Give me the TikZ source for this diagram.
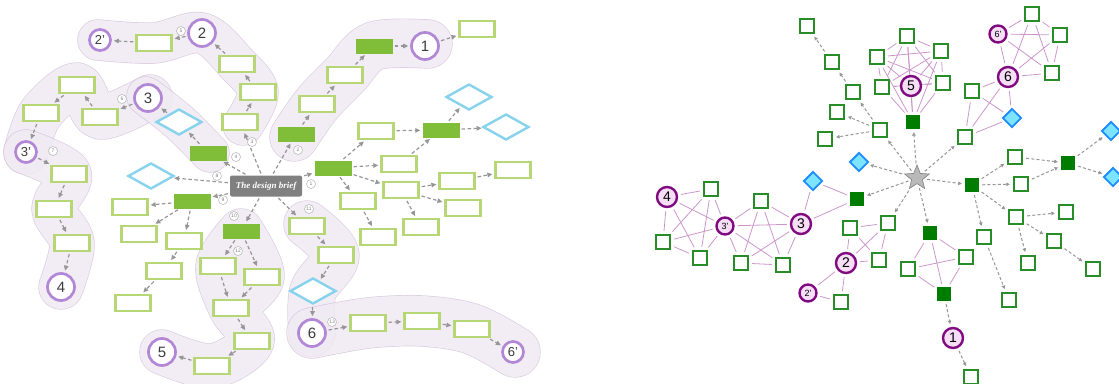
\documentclass[tikz,border=0pt]{standalone}
\usepackage{fontspec}
\setsansfont{Liberation Sans}
\setmainfont{Liberation Serif}
\usetikzlibrary{shapes.geometric, arrows.meta}

\definecolor{boxgreen}{RGB}{183,215,118}
\definecolor{fillgreen}{RGB}{128,190,58}
\definecolor{diablue}{RGB}{135,210,236}
\definecolor{ringpurple}{RGB}{178,136,214}
\definecolor{arrowgray}{RGB}{150,150,150}
\definecolor{briefgray}{RGB}{128,128,128}
\definecolor{blobfill}{RGB}{240,233,243}
\definecolor{blobline}{RGB}{214,196,220}
\definecolor{darktext}{RGB}{60,60,60}
\definecolor{rgreen}{RGB}{40,140,40}
\definecolor{rfill}{RGB}{0,125,0}
\definecolor{rdiafill}{RGB}{125,228,255}
\definecolor{rdiaedge}{RGB}{30,140,255}
\definecolor{rring}{RGB}{128,10,128}
\definecolor{rringfill}{RGB}{246,222,246}
\definecolor{rlink}{RGB}{204,150,204}

\pgfdeclarelayer{blobs}
\pgfdeclarelayer{edges}
\pgfsetlayers{blobs,edges,main}

% a soft rounded band through a list of points
\newcommand\band[2]{%
  \begin{scope}[transparency group, opacity=0.85]
    \draw[blobline, line width=#1+1.4pt, line cap=round, line join=round]
      plot[smooth, tension=0.55] coordinates {#2};
    \draw[blobfill, line width=#1, line cap=round, line join=round]
      plot[smooth, tension=0.55] coordinates {#2};
  \end{scope}}

\tikzset{
  box/.style={rectangle, draw=boxgreen, line width=2.3pt, fill=white,
    minimum width=35pt, minimum height=16pt, inner sep=0pt},
  fbox/.style={rectangle, fill=fillgreen, minimum width=37pt,
    minimum height=15pt, inner sep=0pt},
  dia/.style={diamond, draw=diablue, line width=2.4pt, fill=white,
    minimum width=46pt, minimum height=26pt, inner sep=0pt},
  ring/.style={circle, draw=ringpurple, line width=2.7pt, fill=white,
    minimum size=27pt, inner sep=0pt, text=darktext,
    font=\sffamily\fontsize{15}{15}\selectfont},
  ringp/.style={ring, minimum size=21pt,
    font=\sffamily\fontsize{13}{13}\selectfont},
  tag/.style={circle, draw=gray!60, line width=0.5pt, fill=white,
    inner sep=0pt, minimum size=9pt, text=gray,
    font=\sffamily\fontsize{5}{5}\selectfont},
  brief/.style={rectangle, rounded corners=2pt, fill=briefgray,
    minimum width=72pt, minimum height=21pt, inner sep=0pt, text=white,
    font=\bfseries\itshape\fontsize{9}{10}\selectfont},
  larr/.style={draw=arrowgray, line width=1.2pt,
    dash pattern=on 3.5pt off 2.5pt,
    -{Triangle[length=5pt,width=4.5pt]}, shorten >=2pt, shorten <=2pt},
  rsq/.style={rectangle, draw=rgreen, line width=2.3pt, fill=white,
    minimum size=14pt, inner sep=0pt},
  rfl/.style={rectangle, fill=rfill, minimum size=14pt, inner sep=0pt},
  rdia/.style={diamond, draw=rdiaedge, line width=1.9pt, fill=rdiafill,
    minimum size=19pt, inner sep=0pt},
  rring/.style={circle, draw=rring, line width=2.4pt, fill=rringfill,
    minimum size=20pt, inner sep=0pt,
    font=\sffamily\fontsize{14}{14}\selectfont},
  rringp/.style={rring, minimum size=17pt,
    font=\sffamily\fontsize{9}{9}\selectfont},
  rstar/.style={star, star points=5, star point ratio=2.3, fill=gray!55,
    draw=gray, line width=0.6pt, minimum size=26pt, inner sep=0pt},
  rarr/.style={draw=arrowgray, line width=1pt,
    dash pattern=on 3pt off 2.2pt,
    -{Triangle[length=3.5pt,width=3.5pt]}, shorten >=3pt, shorten <=3pt},
  rln/.style={draw=rlink, line width=0.8pt, shorten >=3pt, shorten <=3pt},
}

\begin{document}
\begin{tikzpicture}[x=1pt, y=-1pt]
\useasboundingbox (0,0) rectangle (1119,383);

% ---------------- left: bands behind the paths ----------------
\begin{pgfonlayer}{blobs}
\band{40pt}{(98,40) (154,43) (202,33) (237,64) (258,92) (243,125)}
\band{44pt}{(150,97) (100,117) (77,85) (41,113) (26,152)}
\band{44pt}{(26,152) (69,174) (54,209) (72,243) (61,287)}
\band{38pt}{(146,96) (179,122) (210,153)}
\band{48pt}{(294,137) (317,104) (345,75) (374,46) (428,44)}
\begin{scope}[transparency group, opacity=0.85]
  \draw[blobline, line width=45.4pt, line cap=round, line join=round]
    plot[smooth, tension=0.55] coordinates {(241,231) (218,266) (231,308) (252,341) (212,366) (162,352)}
    plot[smooth, tension=0.55] coordinates {(241,231) (262,277) (231,308)};
  \draw[blobfill, line width=44pt, line cap=round, line join=round]
    plot[smooth, tension=0.55] coordinates {(241,231) (218,266) (231,308) (252,341) (212,366) (162,352)}
    plot[smooth, tension=0.55] coordinates {(241,231) (262,277) (231,308)};
\end{scope}
\band{46pt}{(307,224) (336,255) (313,291) (312,333)}
\band{50pt}{(312,333) (368,323) (422,321) (472,329) (515,352)}
\end{pgfonlayer}

% ---------------- left: nodes ----------------
\node[brief] (brief) at (266,186) {The design brief};
\node[fbox] (g1) at (333,168) {};
\node[fbox] (g2) at (296,134) {};
\node[fbox] (g4) at (208,153) {};
\node[fbox] (g9) at (192,201) {};
\node[fbox] (g10) at (241,231) {};
\node[box] (b11) at (307,226) {};
\node[box] (b3) at (240,122) {};
\node[dia] (d8) at (151,176) {};

\node[box] (a1) at (317,104) {};
\node[box] (a2) at (345,75) {};
\node[fbox] (ga) at (374,46) {};
\node[ring] (c1) at (425,46) {1};
\node[box] (a3) at (477,29) {};

\node[box] (e1) at (258,92) {};
\node[box] (e2) at (237,64) {};
\node[ring] (c2) at (202,33) {2};
\node[box] (e3) at (154,43) {};
\node[ringp] (c2p) at (100,40) {2’};

\node[dia] (d4) at (179,122) {};
\node[ring] (c3) at (148,98) {3};
\node[box] (f1) at (100,117) {};
\node[box] (f2) at (77,85) {};
\node[box] (f3) at (41,113) {};
\node[ringp] (c3p) at (26,152) {3’};
\node[box] (f4) at (69,174) {};
\node[box] (f5) at (54,209) {};
\node[box] (f6) at (72,243) {};
\node[ring] (c4) at (61,287) {4};

\node[box] (h1) at (376,131) {};
\node[box] (h2) at (399,164) {};
\node[box] (h3) at (401,190) {};
\node[box] (h4) at (358,201) {};
\node[fbox] (gh) at (441,130) {};
\node[dia] (dh1) at (469,97) {};
\node[dia] (dh2) at (506,127) {};
\node[box] (h5) at (457,181) {};
\node[box] (h6) at (463,208) {};
\node[box] (h7) at (421,227) {};
\node[box] (h8) at (513,170) {};
\node[box] (h9) at (378,237) {};

\node[box] (i1) at (130,207) {};
\node[box] (i2) at (139,234) {};
\node[box] (i3) at (184,241) {};
\node[box] (i4) at (164,271) {};
\node[box] (i5) at (133,303) {};

\node[box] (j1) at (218,266) {};
\node[box] (j2) at (262,277) {};
\node[box] (j3) at (231,308) {};
\node[box] (j4) at (252,341) {};
\node[box] (j5) at (212,366) {};
\node[ring] (c5) at (162,352) {5};

\node[box] (k1) at (336,255) {};
\node[dia] (dk) at (313,291) {};
\node[ring] (c6) at (312,333) {6};
\node[box] (k2) at (368,323) {};
\node[box] (k3) at (422,321) {};
\node[box] (k4) at (472,329) {};
\node[ringp] (c6p) at (513,352) {6’};

% ---------------- left: arrows ----------------
\begin{pgfonlayer}{edges}
\foreach \a/\b in {brief/g1, brief/g2, brief/b3, brief/g4, brief/d8, brief/g9,
  brief/g10, brief/b11,
  g2/a1, a1/a2, a2/ga, ga/c1, c1/a3,
  b3/e1, e1/e2, e2/c2, c2/e3, e3/c2p,
  g4/d4, d4/c3, c3/f1, f1/f2, f2/f3, f3/c3p, c3p/f4, f4/f5, f5/f6, f6/c4,
  g1/h1, g1/h2, g1/h3, g1/h4, h1/gh, h2/gh, gh/dh1, gh/dh2,
  h3/h5, h3/h6, h3/h7, h5/h8, h4/h9,
  g9/i1, g9/i2, g9/i3, i3/i4, i4/i5,
  g10/j1, g10/j2, j1/j3, j2/j3, j3/j4, j4/j5, j5/c5,
  b11/k1, k1/dk, dk/c6, c6/k2, k2/k3, k3/k4, k4/c6p}
  \draw[larr] (\a) -- (\b);
\end{pgfonlayer}

% step numbers
\node[tag] (n1) at (311,184) {1};
\node[tag] (n2) at (298,150) {2};
\node[tag] (n3) at (252,142) {3};
\node[tag] (n4) at (236,157) {4};
\node[tag] (n5) at (181,31) {5};
\node[tag] (n6) at (122,99) {6};
\node[tag] (n7) at (53,151) {7};
\node[tag] (n8) at (217,176) {8};
\node[tag] (n9) at (223,200) {9};
\node[tag] (n10) at (234,216) {10};
\node[tag] (n11) at (309,209) {11};
\node[tag] (n12) at (238,251) {12};
\node[tag] (n13) at (332,322) {13};

% ---------------- right: nodes ----------------
\node[rstar] (S) at (917,178) {};
\node[rfl] (G5) at (913,122) {};
\node[rsq] (Q1) at (880,130) {};
\node[rdia] (DA) at (859,162) {};
\node[rfl] (G3) at (857,199) {};
\node[rsq] (Q2) at (888,223) {};
\node[rfl] (G1) at (930,233) {};
\node[rsq] (Q6) at (965,137) {};
\node[rfl] (GR) at (972,185) {};

\node[rsq] (qa) at (837,112) {};
\node[rsq] (qb) at (825,139) {};
\node[rsq] (qc) at (853,92) {};
\node[rsq] (qd) at (832,62) {};
\node[rsq] (qe) at (807,26) {};

\node[rring] (R5) at (911,86) {5};
\node[rsq] (p1) at (907,36) {};
\node[rsq] (p2) at (941,51) {};
\node[rsq] (p3) at (877,57) {};
\node[rsq] (p4) at (882,87) {};
\node[rsq] (p5) at (943,83) {};

\node[rring] (R6) at (1008,77) {6};
\node[rringp] (R6p) at (998,34) {6’};
\node[rsq] (r1) at (1032,14) {};
\node[rsq] (r2) at (1060,35) {};
\node[rsq] (r3) at (1052,73) {};
\node[rsq] (s1) at (972,91) {};
\node[rdia] (DB) at (1012,118) {};

\node[rsq] (t1) at (1015,157) {};
\node[rsq] (t2) at (1021,184) {};
\node[rfl] (GT) at (1068,163) {};
\node[rdia] (DC) at (1111,131) {};
\node[rdia] (DD) at (1113,177) {};
\node[rsq] (t3) at (1016,217) {};
\node[rsq] (t4) at (984,237) {};
\node[rsq] (t5) at (1066,212) {};
\node[rsq] (t6) at (1054,241) {};
\node[rsq] (t7) at (1028,263) {};
\node[rsq] (t8) at (1093,269) {};
\node[rsq] (t9) at (1009,300) {};

\node[rsq] (u1) at (908,269) {};
\node[rsq] (u2) at (966,257) {};
\node[rfl] (G1b) at (944,294) {};
\node[rring] (R1) at (953,338) {1};
\node[rsq] (u3) at (971,377) {};

\node[rsq] (v1) at (850,228) {};
\node[rsq] (v2) at (879,260) {};
\node[rring] (R2) at (846,263) {2};
\node[rringp] (R2p) at (808,293) {2’};
\node[rsq] (v3) at (841,302) {};

\node[rdia] (DE) at (813,181) {};
\node[rring] (R3) at (801,224) {3};
\node[rringp] (R3p) at (725,226) {3’};
\node[rsq] (w1) at (761,201) {};
\node[rsq] (w2) at (741,263) {};
\node[rsq] (w3) at (783,265) {};

\node[rring] (R4) at (667,197) {4};
\node[rsq] (w4) at (711,189) {};
\node[rsq] (w5) at (700,258) {};
\node[rsq] (w6) at (663,242) {};

% ---------------- right: links and arrows ----------------
\begin{pgfonlayer}{edges}
\foreach \a/\b in {
  R5/p1, R5/p2, R5/p3, R5/p4, R5/p5, p1/p2, p1/p3, p1/p4, p1/p5,
  p2/p3, p2/p4, p2/p5, p3/p4, p3/p5, p4/p5,
  G5/R5, G5/p1, G5/p2, G5/p3, G5/p4, G5/p5,
  R6/R6p, R6/r1, R6/r2, R6/r3, R6p/r1, R6p/r2, R6p/r3, r1/r2, r1/r3, r2/r3,
  s1/R6, s1/DB, s1/Q6, R6/DB, R6/Q6, DB/Q6,
  G1/u1, G1/u2, G1/G1b, u1/u2, u1/G1b, u2/G1b,
  Q2/v1, Q2/v2, Q2/R2, v1/v2, v1/R2, v2/R2,
  R2/R2p, R2/v3, R2p/v3,
  DE/G3, DE/R3, G3/R3,
  R3/R3p, R3/w1, R3/w2, R3/w3, R3p/w1, R3p/w2, R3p/w3, w1/w2, w1/w3, w2/w3,
  R4/w4, R4/R3p, R4/w5, R4/w6, w4/R3p, w4/w5, w4/w6, R3p/w5, R3p/w6, w5/w6}
  \draw[rln] (\a) -- (\b);
\foreach \a/\b in {S/G5, S/Q1, S/DA, S/G3, S/Q2, S/G1, S/Q6, S/GR,
  Q1/qa, Q1/qb, Q1/qc, qc/qd, qd/qe,
  GR/t1, GR/t2, GR/t3, GR/t4, t1/GT, t2/GT, GT/DC, GT/DD,
  t3/t5, t3/t6, t3/t7, t6/t8, t4/t9,
  G1b/R1, R1/u3}
  \draw[rarr] (\a) -- (\b);
\end{pgfonlayer}
\end{tikzpicture}
\end{document}
